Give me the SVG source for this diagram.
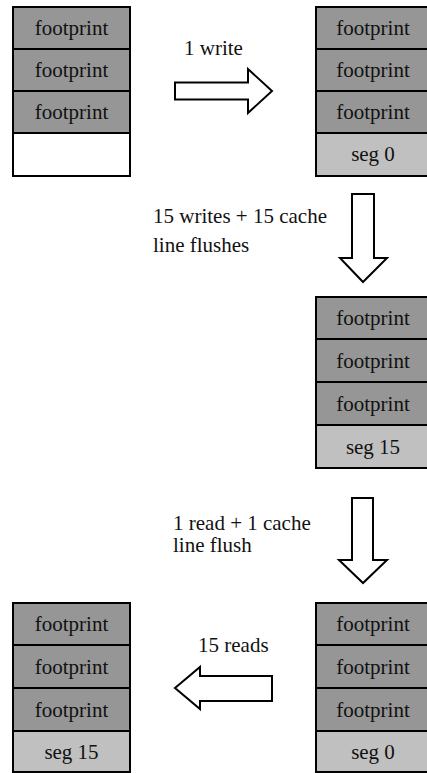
<svg xmlns="http://www.w3.org/2000/svg" width="427" height="773" viewBox="0 0 427 773">
<style>
.fp{fill:#969696;stroke:#000;stroke-width:2}
.sg{fill:#c0c0c0;stroke:#000;stroke-width:2}
.em{fill:#fff;stroke:#000;stroke-width:2}
text{font-family:'Liberation Serif','DejaVu Serif',Tinos,'Times New Roman',Times,serif;font-size:21px;fill:#111}
.c{text-anchor:middle}
.arr{fill:#fff;stroke:#000;stroke-width:2;stroke-linejoin:miter}
</style>
<rect width="427" height="773" fill="#fff"/>
<g id="stack1">
<rect class="fp" x="13" y="7" width="117" height="42"/>
<rect class="fp" x="13" y="49" width="117" height="42"/>
<rect class="fp" x="13" y="91" width="117" height="42"/>
<rect class="em" x="13" y="133" width="117" height="43"/>
<text class="c" x="71.5" y="35">footprint</text>
<text class="c" x="71.5" y="77">footprint</text>
<text class="c" x="71.5" y="119">footprint</text>
</g>
<g id="stack2">
<rect class="fp" x="316" y="7" width="117" height="42"/>
<rect class="fp" x="316" y="49" width="117" height="42"/>
<rect class="fp" x="316" y="91" width="117" height="42"/>
<rect class="sg" x="316" y="133" width="117" height="43"/>
<text class="c" x="373" y="35">footprint</text>
<text class="c" x="373" y="77">footprint</text>
<text class="c" x="373" y="119">footprint</text>
<text class="c" x="373" y="161">seg 0</text>
</g>
<g id="stack3">
<rect class="fp" x="316" y="297" width="117" height="42"/>
<rect class="fp" x="316" y="339" width="117" height="43"/>
<rect class="fp" x="316" y="382" width="117" height="43"/>
<rect class="sg" x="316" y="425" width="117" height="43"/>
<text class="c" x="373" y="325">footprint</text>
<text class="c" x="373" y="368">footprint</text>
<text class="c" x="373" y="411">footprint</text>
<text class="c" x="373" y="454">seg 15</text>
</g>
<g id="stack4">
<rect class="fp" x="316" y="603" width="117" height="42"/>
<rect class="fp" x="316" y="645" width="117" height="43"/>
<rect class="fp" x="316" y="688" width="117" height="43"/>
<rect class="sg" x="316" y="731" width="117" height="41"/>
<text class="c" x="373" y="631">footprint</text>
<text class="c" x="373" y="674">footprint</text>
<text class="c" x="373" y="717">footprint</text>
<text class="c" x="373" y="759">seg 0</text>
</g>
<g id="stack5">
<rect class="fp" x="13" y="603" width="117" height="42"/>
<rect class="fp" x="13" y="645" width="117" height="43"/>
<rect class="fp" x="13" y="688" width="117" height="43"/>
<rect class="sg" x="13" y="731" width="117" height="41"/>
<text class="c" x="71.5" y="631">footprint</text>
<text class="c" x="71.5" y="674">footprint</text>
<text class="c" x="71.5" y="717">footprint</text>
<text class="c" x="71.5" y="759">seg 15</text>
</g>
<g id="connectors">
<polygon class="arr" points="175,82.5 248,82.5 248,69 272,91 248,113 248,99.5 175,99.5"/>
<text x="184" y="55">1 write</text>
<polygon class="arr" points="352,194 374,194 374,258 387,258 363,282 340,258 352,258"/>
<text x="153" y="223">15 writes + 15 cache</text>
<text x="153" y="252">line flushes</text>
<polygon class="arr" points="352,498 373,498 373,560 387,560 363,583 339,560 352,560"/>
<text x="173" y="530">1 read + 1 cache</text>
<text x="173" y="552">line flush</text>
<polygon class="arr" points="272,676 200,676 200,667 175,688 200,709 200,701 272,701"/>
<text x="198" y="652">15 reads</text>
</g>
</svg>
